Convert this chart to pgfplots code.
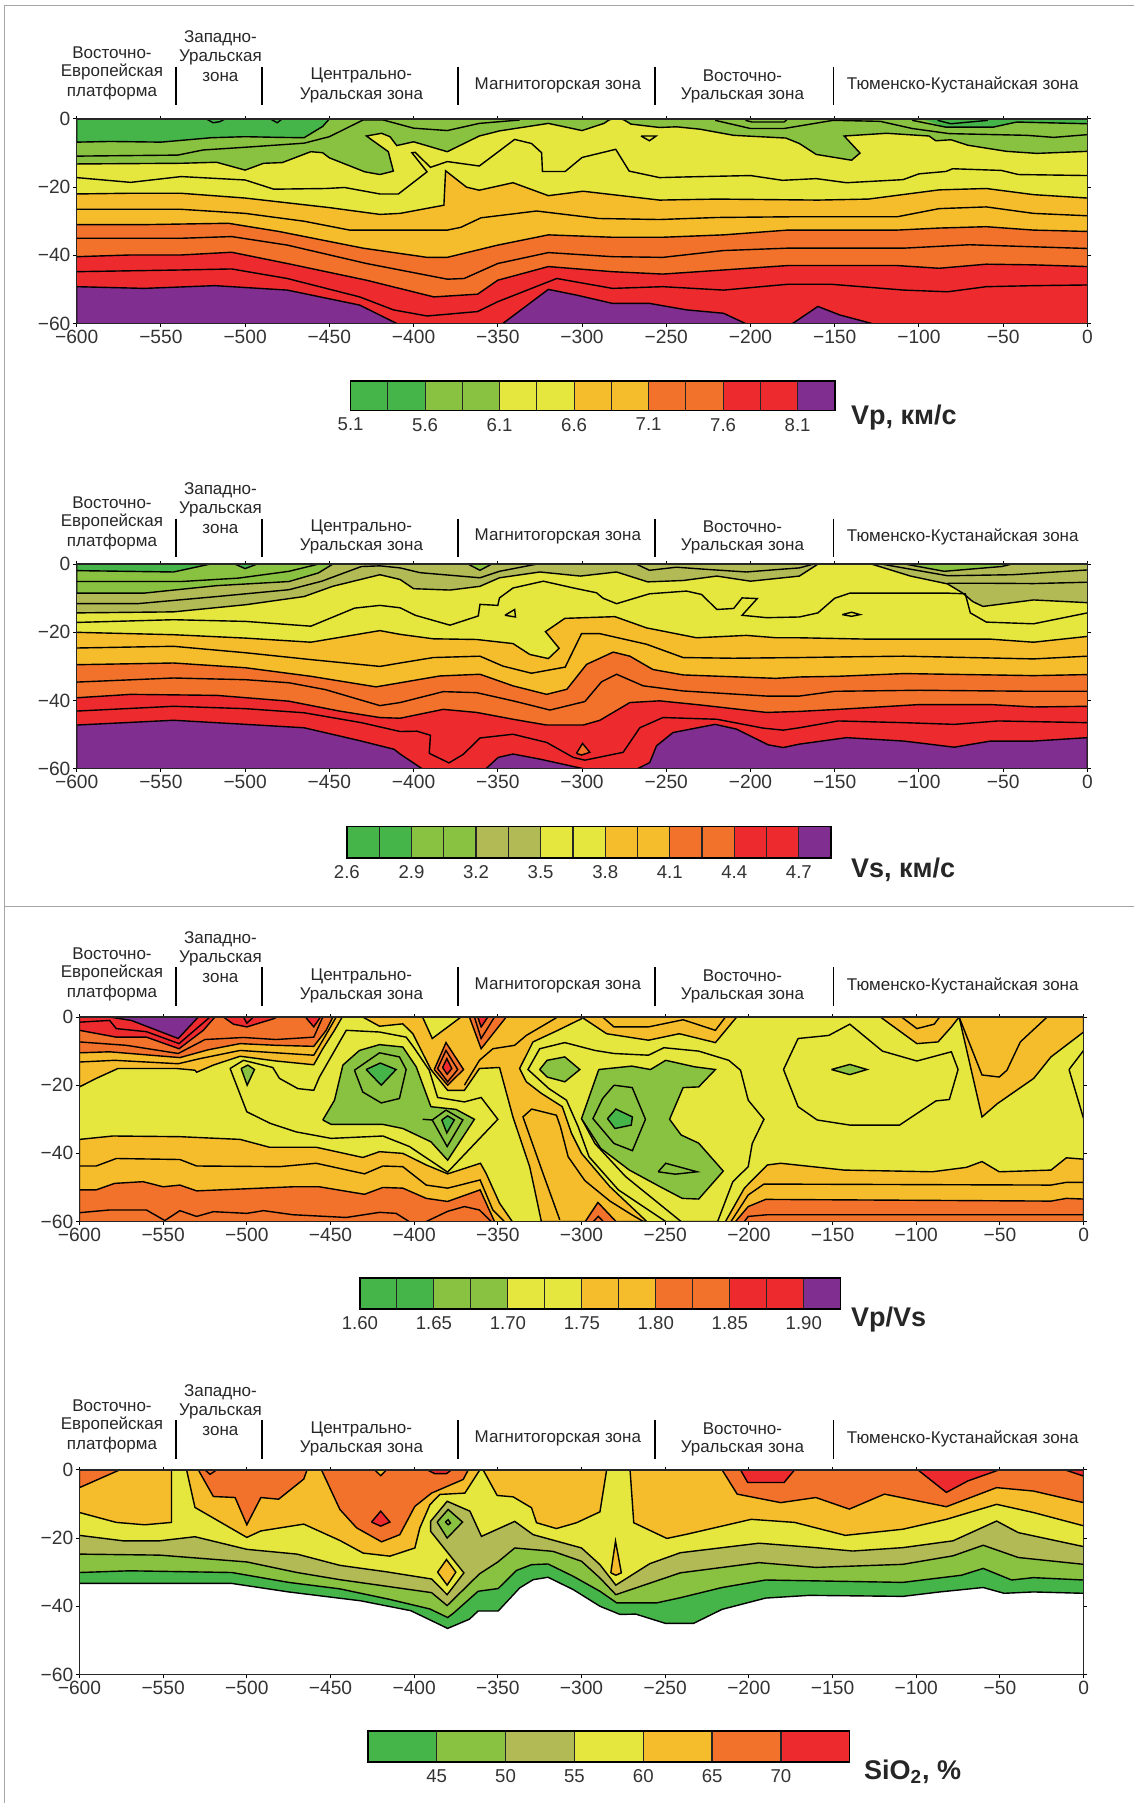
\documentclass[border=0pt]{standalone}
\usepackage{fontspec}
\setmainfont{Liberation Sans}
\usepackage{pgfplots}
\pgfplotsset{compat=1.18}
\definecolor{cD}{HTML}{46B549}
\definecolor{cL}{HTML}{88C240}
\definecolor{cO}{HTML}{B2BA56}
\definecolor{cY}{HTML}{E5E63E}
\definecolor{cG}{HTML}{F5BD2C}
\definecolor{cR}{HTML}{F2722B}
\definecolor{cE}{HTML}{ED2A2E}
\definecolor{cP}{HTML}{812E91}
\newcommand\tfont{\fontsize{8.5}{9}\selectfont}
\pgfplotsset{
  ct/.style={black,line width=0.7pt},
  panel/.style={scale only axis,width=#1,height=102.3pt,anchor=north west,
    xmin=-600,xmax=0,ymin=-60,ymax=0,axis on top,
    xtick={-600,-550,...,0},ytick={-60,-40,-20,0},
    xticklabels={−600,−550,−500,−450,−400,−350,−300,−250,−200,−150,−100,−50,0},
    yticklabels={−60,−40,−20,0},
    tick align=outside,xtick pos=both,ytick pos=both,
    major tick length=1.6pt,tick style={black,line width=0.5pt},
    axis line style={line width=0.8pt,black!85},
    tick label style={font=\fontsize{9.6}{10}\selectfont,text=black!80},
    xticklabel style={yshift=1.8pt},yticklabel style={xshift=2pt}},
  cbar/.style n args={3}{scale only axis,width=#1,height=#2,anchor=north west,
    xmin=0,xmax=#3,ymin=0,ymax=1,ytick=\empty,xtick pos=bottom,
    major tick length=0pt,tick style={draw=none},axis line style={line width=0.7pt},
    tick label style={font=\fontsize{9.3}{10}\selectfont,text=black!80},xticklabel style={yshift=-0.2pt},axis on top}
}
\newcommand\C[1]{\addplot[ct] coordinates {#1};}
\newcommand\F[2]{\addplot[fill=#1,draw=none] coordinates {#2};}
\newcommand\FC[2]{\F{#1}{#2}\C{#2}}
\newcommand\D[2]{\F{#1}{(-600,-60) #2 (0,-60)}\C{#2}}
\newcommand\U[2]{\F{#1}{(-600,0) #2 (0,0)}\C{#2}}
\newcommand\cell[2]{\addplot[fill=#2,draw=black!85,line width=0.6pt] coordinates {(#1,0)(#1+1,0)(#1+1,1)(#1,1)(#1,0)};}
\newcommand\zones[2]{%
  \foreach \t/\y in {Восточно-/52.7,Европейская/72,платформа/92}
    \node[font=\tfont,inner sep=0pt,text=black!85] at (112,{-(\y+#1)}) {\t};
  \foreach \t/\y in {Западно-/38.5,Уральская/57.8,зона/77}
    \node[font=\tfont,inner sep=0pt,text=black!85] at (220.5,{-(\y+#2)}) {\t};
  \foreach \t/\x/\y in {Центрально-/361.5/75.3,Уральская зона/361.5/95,Магнитогорская зона/558/85,Восточно-/742.6/75.3,Уральская зона/742.6/95,Тюменско-Кустанайская зона/963/85}
    \node[font=\tfont,inner sep=0pt,text=black!85] at (\x,{-(\y+#2)}) {\t};
  \foreach \x in {176.4,262.5,458.4,655,833.7}
    \draw[black,line width=0.95pt] (\x,{-(66.7+#2)}) -- (\x,{-(105+#2)});
}
\begin{document}
\begin{tikzpicture}[x=0.5pt,y=0.5pt]
\path (0,0) rectangle (1134,-1803);
\draw[gray!70,line width=0.5pt] (1134,-6) -- (5,-6) -- (5,-1803);
\draw[gray!70,line width=0.5pt] (5,-907) -- (1134,-907);
\zones{0}{0}\zones{450}{452}\zones{901}{901}\zones{1353}{1354}

% ---------- Vp
\begin{axis}[panel=505.5pt,at={(38.35pt,-59.5pt)}]
\F{cL}{(-600,0)(-600,-60)(0,-60)(0,0)}
\FC{cD}{(-600,0)(-600,-6.8)(-580,-6.6)(-550,-6.8)(-520,-5.5)(-500,-5.2)(-480,-5.4)(-465,-5.5)(-454,-2.2)(-450,0)}
\F{cD}{(-98,0)(-84,-2.4)(-56,-2.4)(-42,-.9)(0,-1.4)(0,0)}
\C{(-104,-.4)(-84,-2.4)(-56,-2.4)(-42,-.9)(0,-1.4)}
\C{(-89,-.4)(-81,-1.4)(-59,-.4)}
\C{(-523,0)(-519,-1.1)(-515,-.8)(-512,0)}
\C{(-485,0)(-481,-1.1)(-478,0)}
\C{(-221,-.4)(-200,-2.8)(-180,-2.8)(-151,-.4)(-123,-.7)(-104,-2.8)(-82,-4.3)(-36,-4.8)(-20,-5.4)(0,-4.6)}
\C{(-203,-.4)(-199,-.9)(-180,-.9)(-178,0)}
\C{(-600,-10.9)(-540,-10.6)(-525,-9.1)(-500,-8.3)(-465,-7.1)(-450,-5.2)(-430,-.3)(-418,-.3)(-400,-2.7)(-380,-3.4)(-361,-1.3)(-337,-.3)}
\D{cY}{(-600,-13.2)(-538,-13)(-517,-12.7)(-500,-15)(-489,-13)(-478,-12.8)(-461,-9.6)(-454,-9.9)(-450,-11.4)(-429,-15.5)(-420,-16.3)(-412,-15.3)(-415,-9.6)(-428,-5)(-419,-4.2)(-414,-5.2)(-410,-7.8)(-400,-6.7)(-380,-9.6)(-361,-5)(-349,-3.5)(-320,-1.3)(-300,-3.4)(-287,-1.3)(-284,-.3)(-282,0)(-277,0)(-275,-.3)(-271,-1.5)(-254,-2.5)(-244,-2.3)(-230,-3)(-210,-4.8)(-179,-5.6)(-171,-7.2)(-161,-10.4)(-140,-12.1)(-135,-10)(-144.4,-5)(-119.3,-4.2)(-94,-5)(-90,-6.4)(-81,-6.1)(-71,-7.7)(-48,-9.5)(-30,-10.1)(0,-9.5)}
\C{(-265,-5)(-256,-5)(-260,-6.4)(-265,-5)}
\C{(-600,-17.2)(-568,-18.6)(-538,-16.9)(-500,-17.9)(-483,-20.6)(-452,-20.4)(-441,-20.1)(-420,-22)(-409,-22)(-392,-15.5)(-401,-9.9)(-399,-9.8)(-390,-14.2)(-380,-12.5)(-361,-13.8)(-340,-6)(-330,-7.2)(-324,-9.9)(-323.5,-15.4)(-310,-15.4)(-300,-11.3)(-280,-8.9)(-272,-15.3)(-254,-17.2)(-238,-17)(-200,-16.6)(-181,-18)(-161,-17.5)(-143,-18.7)(-109.4,-17.8)(-100,-16.1)(-84,-15.4)(-80,-14.6)(-51,-15.1)(-41,-16.3)(0,-16.6)}
\D{cG}{(-600,-22)(-570,-21.8)(-538,-21.8)(-500,-23.2)(-450,-26)(-420,-28)(-408,-27.7)(-382,-25.3)(-381,-15.2)(-368.6,-20)(-361,-20.9)(-341,-18.7)(-320,-22.5)(-299.4,-21.2)(-254,-23.8)(-220,-23.5)(-160,-23.8)(-130,-23.5)(-88,-20.8)(-60,-20.4)(-32,-22.2)(0,-23.2)}
\C{(-600,-26.5)(-538,-26.5)(-500,-27.7)(-465,-30)(-438,-32.6)(-380,-32.6)(-372,-31.8)(-360,-29)(-327,-27)(-290,-29.2)(-254,-29.5)(-220,-28.9)(-177,-28.7)(-113,-28.7)(-88,-26.3)(-60,-25.8)(-32,-27.7)(0,-28.4)}
\D{cR}{(-600,-31)(-560,-31)(-510,-30.6)(-480,-33)(-430,-37.9)(-392,-40.6)(-380,-40.6)(-350,-37)(-320,-34)(-282,-34.7)(-252,-34.7)(-216,-34)(-178,-32.6)(-113,-32.6)(-88,-32)(-60,-31.6)(-32,-32.6)(0,-33)}
\C{(-600,-35)(-538,-35)(-508,-34.5)(-475,-37)(-428,-42.4)(-380,-47)(-370,-46.8)(-350,-42.4)(-320,-39.2)(-282,-40.4)(-252,-40.6)(-216,-38.6)(-178,-37.9)(-109,-37.9)(-70,-36.9)(-32,-37.5)(0,-38)}
\D{cE}{(-600,-40.4)(-568,-39.9)(-538,-39.9)(-508,-39.1)(-475,-42.4)(-428,-47.3)(-388,-52.2)(-362,-51.4)(-350,-47.3)(-320,-43.3)(-282,-44.8)(-252,-45.5)(-216,-44.3)(-178,-43)(-113,-43)(-88,-43.8)(-60,-42.6)(-32,-42.8)(0,-43.3)}
\C{(-600,-44.8)(-538,-44.3)(-508,-44)(-475,-46.8)(-432,-52.2)(-412,-56)(-392,-57.8)(-362,-56.5)(-350,-53.6)(-315,-46.8)(-282,-49.7)(-252,-49.2)(-216,-50.2)(-178,-48.5)(-152,-48.5)(-109,-50.2)(-83,-50.7)(-60,-49.2)(-32,-48.9)(0,-48.7)}
\FC{cP}{(-600,-60)(-600,-49.2)(-560,-49.7)(-518,-48.9)(-475,-50.2)(-432,-54.6)(-410,-60)}
\FC{cP}{(-347,-60)(-320,-50)(-303,-51.7)(-282,-54.1)(-260,-54.1)(-238,-56)(-216,-57)(-203,-60)}
\FC{cP}{(-175,-60)(-160,-55)(-147,-57.5)(-128,-60)}
\end{axis}
\begin{axis}[cbar={242.2pt}{14.9pt}{13},at={(175.35pt,-190.5pt)},xtick={0,2,...,12},xticklabels={5.1,5.6,6.1,6.6,7.1,7.6,8.1}]
\cell{0}{cD}\cell{1}{cD}\cell{2}{cL}\cell{3}{cL}\cell{4}{cY}\cell{5}{cY}\cell{6}{cG}\cell{7}{cG}\cell{8}{cR}\cell{9}{cR}\cell{10}{cE}\cell{11}{cE}\cell{12}{cP}
\end{axis}
\node[anchor=west,font=\fontsize{13.5}{15}\selectfont\bfseries,text=black!85,inner sep=0pt] at (851,-418) {Vp, км/с};

% ---------- Vs
\begin{axis}[panel=505.5pt,at={(38.35pt,-282.15pt)}]
\F{cO}{(-600,0)(-600,-60)(0,-60)(0,0)}
\FC{cL}{(-600,0)(-600,-8.5)(-560,-8.5)(-516.7,-6.3)(-474,-5.1)(-456.6,-2.6)(-448,0)}
\FC{cD}{(-600,0)(-600,-1.9)(-542.5,-2.3)(-521,0)}
\FC{cD}{(-506,0)(-500,-1.3)(-493,0)}
\C{(-600,-5.1)(-538,-5.1)(-504,-4.1)(-474,-2.1)(-456.6,0)}
\FC{cL}{(-367.6,0)(-360.6,-1.8)(-353.7,0)}
\FC{cL}{(-108,0)(-85,-2.1)(-51,-.7)(-45,0)}
\C{(-600,-11.6)(-564,-11.6)(-516.7,-9.5)(-474,-7.5)(-454.5,-5)(-431,-.7)(-420,-.5)(-408,-1.1)(-396.2,-2.5)(-360.6,-4)(-349,-2.1)(-327,0)}
\C{(-267.7,0)(-260,-1.8)(-244,-.9)(-224,-1.6)(-202.4,-2.3)(-184.6,-1.6)(-171,-1.1)(-162.7,0)}
\C{(-122,0)(-83,-3.4)(-44.6,-3.1)(0,-1.7)}
\C{(-83,-5.6)(-60,-5.6)(-32,-5.7)(0,-5.3)}
\D{cY}{(-600,-14.3)(-542.5,-14)(-499.6,-11.9)(-465,-9.5)(-448,-6.5)(-420,-3.1)(-408,-4.5)(-400,-7.2)(-378.4,-7.6)(-360.6,-6.5)(-349,-4)(-325,-2.3)(-301,-3.5)(-279.5,-2.3)(-261,-5.2)(-240,-4.8)(-220,-3.5)(-200,-5)(-171,-3.5)(-160,0)(-128,0)(-105,-3.5)(-83,-5.8)(-74,-8.5)(-68,-11)(-62,-12.4)(-32,-10.5)(0,-11.3)}
\C{(-600,-17.1)(-542.5,-16.3)(-499.6,-16.8)(-461,-18.2)(-435,-12.9)(-420,-12.1)(-408,-12.8)(-399,-15)(-378.4,-17.9)(-361.6,-15.2)(-360.6,-11.8)(-350,-12.1)(-349,-9.9)(-341,-7)(-323,-5)(-305,-7)(-291.4,-8.4)(-287.5,-10)(-279.5,-11.6)(-260,-8.7)(-238,-7.9)(-229,-8.9)(-220,-13.3)(-210,-13)(-205,-9.9)(-196,-10.1)(-205,-15)(-190.5,-15.7)(-171,-15.5)(-160,-14.3)(-150,-10)(-141,-8.5)(-83,-8.5)(-72.5,-8.7)(-69.5,-14.3)(-60,-17)(-32,-17.5)(0,-14.3)}
\C{(-345.8,-15)(-340,-13.3)(-339.5,-15.5)(-345.8,-15)}
\C{(-145.5,-14.8)(-140,-14.1)(-135,-14.8)(-140,-15.3)(-145.5,-14.8)}
\D{cG}{(-600,-20)(-542.5,-20.7)(-499.6,-21.7)(-461,-22.9)(-420,-19.5)(-408,-20.6)(-388.3,-21.9)(-362.6,-22.1)(-341,-23.3)(-331,-26.5)(-320,-27.7)(-313.6,-24.7)(-321.7,-19.8)(-310.2,-15.9)(-280.5,-15.4)(-261.7,-18.7)(-232,-21.6)(-202.4,-20.9)(-184.6,-21.6)(-171,-21.6)(-130,-22)(-57.5,-22)(-32,-22.9)(0,-21.2)}
\C{(-600,-24.6)(-542.5,-24.1)(-499.6,-26)(-461,-28)(-420,-30)(-408,-29)(-388.3,-27.4)(-360.6,-27)(-347,-29.9)(-330,-32)(-310,-30.2)(-300.3,-20.4)(-289.4,-20.4)(-261.7,-23.5)(-240,-27.4)(-210.3,-27.6)(-171,-27.4)(-143,-27.2)(-109,-27)(-60,-27.5)(-32,-27.8)(0,-27)}
\D{cR}{(-600,-29.5)(-542.5,-29)(-499.6,-30.4)(-461,-32.9)(-422.3,-36)(-408,-34.8)(-384.4,-32.8)(-360.6,-32.3)(-341,-35.7)(-321,-38.2)(-309,-36.7)(-297.3,-29.4)(-281.5,-25.8)(-271.6,-27)(-258,-30.9)(-240,-32.5)(-185,-33.5)(-171,-33.1)(-148,-32.9)(-109,-32.1)(-32,-32.7)(0,-32.4)}
\C{(-600,-34.6)(-542.5,-33.4)(-499.6,-33.9)(-474,-34.8)(-452.4,-36.8)(-420,-41.5)(-408,-40.6)(-382.4,-37.4)(-362.6,-37.7)(-341,-40.1)(-319,-42.8)(-298.3,-40.3)(-288.4,-34.5)(-279.5,-32.3)(-263.7,-35.7)(-240,-37.2)(-190.5,-38.7)(-171,-38.7)(-150,-37.3)(-100,-37)(-32,-37.3)(0,-37.3)}
\D{cE}{(-600,-39.2)(-568,-38.2)(-516.7,-38.5)(-474,-40.2)(-444,-43.1)(-420,-45)(-408,-45.2)(-382.4,-42.6)(-362.6,-43.5)(-341,-45.5)(-321,-47.2)(-299.3,-47.2)(-289.4,-45.8)(-271.6,-40.6)(-254,-40.1)(-230,-41.3)(-190.5,-43.5)(-171,-43.2)(-148,-42.6)(-100,-41.2)(-57.5,-41.2)(-32,-41.9)(0,-41.7)}
\C{(-600,-43.1)(-542.5,-41.7)(-499.6,-42.4)(-465,-43.6)(-431,-46.5)(-408,-49.1)(-398,-49)(-390,-50.2)(-390.7,-55.5)(-379,-58.3)(-370.5,-55.8)(-360.6,-51)(-341,-49.9)(-321,-52.3)(-305.2,-56.7)(-298.3,-57.5)(-275.6,-55.2)(-265.7,-48)(-252,-45)(-220,-45.5)(-192.5,-48.1)(-180.6,-48.7)(-171,-48)(-148,-46)(-109,-46.5)(-79,-47)(-53,-46)(0,-46.5)}
\FC{cR}{(-303.3,-55.5)(-299.7,-52.6)(-295.4,-55.2)(-300.3,-56)(-303.3,-55.5)}
\FC{cP}{(-600,-60)(-600,-47.2)(-542.5,-45.8)(-499.6,-47)(-465,-48)(-431,-51.9)(-411.6,-54.3)(-408,-55.7)(-395,-60)}
\FC{cP}{(-357,-60)(-349.8,-56.7)(-341,-55.7)(-325,-57.2)(-299.3,-60)}
\FC{cP}{(-267,-60)(-259.8,-58.2)(-255.8,-53.3)(-246,-49.4)(-221,-47)(-208.3,-48.4)(-189.5,-53)(-180.6,-53.8)(-171,-52.8)(-143,-50.9)(-109,-51.9)(-79,-53.7)(-57.5,-51.9)(-32,-51.9)(0,-50.9)(0,-60)}
\end{axis}
\begin{axis}[cbar={242.2pt}{15.8pt}{15},at={(173.5pt,-413.35pt)},xtick={0,2,...,14},xticklabels={2.6,2.9,3.2,3.5,3.8,4.1,4.4,4.7}]
\cell{0}{cD}\cell{1}{cD}\cell{2}{cL}\cell{3}{cL}\cell{4}{cO}\cell{5}{cO}\cell{6}{cY}\cell{7}{cY}\cell{8}{cG}\cell{9}{cG}\cell{10}{cR}\cell{11}{cR}\cell{12}{cE}\cell{13}{cE}\cell{14}{cP}
\end{axis}
\node[anchor=west,font=\fontsize{13.5}{15}\selectfont\bfseries,text=black!85,inner sep=0pt] at (851,-870) {Vs, км/с};

% ---------- Vp/Vs
\begin{axis}[panel=502.2pt,at={(39.75pt,-508.65pt)}]
\F{cY}{(-600,0)(-600,-60)(0,-60)(0,0)}
% gold
\FC{cG}{(-600,0)(-600,-20.5)(-590,-18)(-577,-15.1)(-542,-15.1)(-531,-15.6)(-530,-16.2)(-520,-14.1)(-504,-11.5)(-482.5,-12.9)(-460,-14)(-454.6,-9.3)(-447.6,-3.9)(-443,0)}
\FC{cG}{(-430.7,0)(-420.7,-2.7)(-406.8,-2)(-400.8,-4.9)(-390,-15.4)(-380,-21.5)(-370,-21.5)(-361,-15.1)(-349,-14.8)(-341,-29.3)(-331,-43.9)(-328,-50.7)(-324,-60)(-261,-60)(-283,-49.8)(-300,-40)(-306,-34.1)(-311.5,-26.3)(-324,-22.4)(-333,-19)(-337,-15.1)(-329,-7.3)(-315,-4.1)(-300,-.5)(-300,0)}
\FC{cG}{(-300,0)(-285,-4.9)(-260,-6.8)(-241.6,-4.9)(-220,-7.5)(-207.3,0)}
\C{(-287.4,0)(-280.6,-2.9)(-260,-2.9)(-239.3,-.8)(-220,-3.9)(-214,0)}
\FC{cG}{(-121.4,0)(-99.6,-7.8)(-87,-7.3)(-79,-2.9)(-74.4,0)}
\C{(-108.8,0)(-99.6,-3.4)(-89.3,-2.1)(-86,0)}
\FC{cG}{(-74.4,0)(-60.7,-29.3)(-51.5,-25.4)(-29.8,-18)(-19.5,-11.7)(0,-4.4)(0,0)}
\C{(-74.4,0)(-60.7,-17)(-50.4,-17.6)(-45.8,-15.6)(-37.8,-7.3)(-21.8,0)}
\C{(-8.7,-15.4)(0,-9.8)}\C{(-8.7,-15.4)(0,-29.8)}
\C{(-600,-13.2)(-579,-12.7)(-541,-13.7)(-528,-12.2)(-504,-9.8)(-482.5,-10.5)(-460,-11.2)(-454.6,-6.8)(-446.6,0)}
\FC{cY}{(-395,0)(-389.2,-6.3)(-372,0)}
\C{(-370,-20)(-361,-12.7)(-353,-9.3)(-340,-8.3)(-333,-5.4)(-315,-.2)}
\C{(-313,-59.5)(-323,-45.9)(-335,-29.3)(-329.8,-27)(-315,-28.8)(-312.6,-32.2)(-308,-41)(-298,-48)(-283,-54)(-270,-58)(-263,-60)}
% top-left orange / red / purple
\FC{cR}{(-600,0)(-600,-10.5)(-582,-10.2)(-540,-11.9)(-523,-9.6)(-504,-7.8)(-482.5,-8.3)(-460,-8.6)(-452.6,-3.9)(-448.6,0)}
\C{(-600,-7.3)(-572,-8.3)(-541,-10.7)(-525,-6.6)(-502,-6)(-482.5,-6.6)(-460,-5.9)(-454.6,0)}
\FC{cE}{(-600,0)(-600,-3.9)(-578,-5.9)(-560,-5.9)(-540.5,-9.3)(-526,-3.9)(-520,-.5)(-519,0)}
\C{(-600,-1.5)(-582,-1)(-578,-3.4)(-560,-4.3)(-540.5,-7.8)(-522,0)}
\FC{cP}{(-582,0)(-569,-1)(-541,-6.3)(-529,0)}
\FC{cE}{(-514,0)(-508,-2.1)(-500,-2.9)(-484,-.5)(-482,0)}
\C{(-502,0)(-500,-1.8)(-496,0)}
\FC{cE}{(-465,0)(-460,-2.9)(-456,0)}
\FC{cR}{(-367,0)(-360,-9.3)(-345,0)}
\C{(-364,0)(-360,-6.3)(-352,0)}
\FC{cE}{(-362,0)(-360,-2.9)(-356,0)}
\FC{cR}{(-388,-15.4)(-381,-7.5)(-370.5,-15.4)(-380,-20)(-388,-15.4)}
\C{(-386,-15.1)(-381,-9.8)(-374,-15.4)(-380,-19)(-386,-15.1)}
\FC{cE}{(-383,-14.8)(-380.5,-12.2)(-377.5,-15.1)(-380.3,-16.8)(-383,-14.8)}
% loops and green areas
\C{(-510,-15.1)(-502,-12.7)(-484.5,-14.8)(-480.5,-18)(-469.5,-21)(-460,-21.5)(-456.6,-17.6)(-440.6,-3.9)(-420.7,-4.4)(-404.8,-5.9)(-400.4,-8.8)(-391,-15.6)(-386,-23.6)(-370,-24.9)(-360,-23.6)(-350,-30)(-380,-45.5)(-402.8,-38)(-418.7,-34.9)(-449.6,-35.6)(-470.5,-33.7)(-486,-31.2)(-500,-27.8)(-510,-15.1)}
\FC{cL}{(-503.4,-15.1)(-499.4,-14.1)(-495.4,-15.4)(-499.8,-20)(-503.4,-15.1)}
\FC{cL}{(-454.6,-30.2)(-447.6,-24.4)(-442.6,-14.1)(-432.7,-9.8)(-420.7,-8.1)(-406.8,-8.8)(-398.8,-14.6)(-390,-26.3)(-375,-27.1)(-364,-30)(-380,-42)(-390,-36.6)(-406.8,-32.7)(-418.7,-31.5)(-449.6,-31.5)(-454.6,-30.2)}
\C{(-435.7,-15.6)(-420.7,-10.5)(-408.8,-11.7)(-404.8,-15.4)(-408.8,-23.9)(-419.7,-25.2)(-430.7,-22)(-435.7,-15.6)}
\FC{cD}{(-428.7,-15.4)(-420.3,-13.5)(-410.8,-15.4)(-419.7,-20)(-428.7,-15.4)}
\C{(-395,-30)(-389.2,-30.2)(-381,-27.3)(-370.9,-30.2)(-380.3,-38)(-389.2,-30.2)}
\FC{cD}{(-383.5,-30.2)(-380,-29)(-376,-30.2)(-380.5,-34)(-383.5,-30.2)}
\C{(-310,-7.5)(-325,-9.3)(-332,-15.4)(-319.5,-21)(-309,-24.4)(-302,-32.2)(-295.5,-41)(-278,-50.7)(-249.7,-60)(-218.7,-60)(-209.6,-48.3)(-200.4,-43.9)(-198,-37.1)(-191,-30)(-200.4,-24.4)(-205,-15.6)(-212,-12.7)(-230,-10)(-250.8,-9)(-260,-11.2)(-280.6,-10.7)(-292,-9.8)(-310,-7.5)}
\C{(-300,-29.8)(-292,-37.1)(-273.7,-46.8)(-240.5,-60)}
\FC{cL}{(-325,-15.4)(-320.6,-12.7)(-310,-11.7)(-301,-15.4)(-310,-19)(-320.6,-17.6)(-325,-15.4)}
\FC{cL}{(-289.7,-15.4)(-270,-14.4)(-258.8,-15.4)(-249.7,-12.7)(-232.5,-14.6)(-220,-15.4)(-230,-20.5)(-239.3,-20.7)(-247.4,-30)(-240.5,-34.6)(-230,-37)(-215.3,-45.2)(-230,-53.4)(-239.8,-53.2)(-253,-49.8)(-271.4,-44.9)(-288.6,-38.5)(-300,-29.8)(-289.7,-15.4)}
\C{(-280.6,-20)(-269.7,-20.7)(-261.8,-30)(-269.6,-39.2)(-280.6,-37.1)(-293.2,-29.8)(-287.4,-23.9)(-280.6,-20)}
\FC{cD}{(-284.5,-29.8)(-279.5,-27)(-269.6,-29.3)(-270.3,-31.7)(-280,-32.7)(-284.5,-29.8)}
\C{(-254.2,-45.4)(-249.7,-42.9)(-230.9,-45.4)(-244,-46.1)(-254.2,-45.4)}
\C{(-170.6,-6.3)(-152.3,-5.4)(-139.7,-2.1)(-120.2,-10)(-99.6,-12.9)(-79,-10.2)(-75,-15.4)(-80.2,-24.2)(-88.2,-24.6)(-110,-31.7)(-139.7,-31.7)(-159.2,-30.2)(-170.6,-26.3)(-179.3,-15.4)(-170.6,-6.3)}
\FC{cL}{(-150.7,-15.4)(-139.7,-13.9)(-129.4,-15.4)(-139.7,-16.9)(-150.7,-15.4)}
% bottom
\FC{cG}{(-600,-60)(-600,-35.9)(-580,-34.9)(-540,-35.1)(-504,-35.9)(-486.5,-38.2)(-458.6,-38.2)(-430.7,-41.2)(-420.7,-39.5)(-406.8,-40)(-392.8,-43.4)(-380,-46)(-373,-44.9)(-360.4,-42.9)(-357,-45.9)(-349,-54.6)(-341.4,-60)}
\C{(-600,-43.7)(-590,-43.7)(-578,-41.5)(-540,-41.8)(-530,-43.7)(-480.5,-43.9)(-458.6,-42.9)(-429.7,-46)(-418.7,-43.7)(-406.8,-43.9)(-392.8,-49.3)(-380,-50.2)(-360.6,-47.8)(-353,-56.6)(-346,-60)}
\FC{cR}{(-600,-60)(-600,-50.7)(-590,-50.7)(-579,-48.8)(-562,-48.3)(-550,-49.8)(-540,-49.3)(-530,-51)(-472.5,-49.8)(-456.6,-49.8)(-429.7,-52)(-418.7,-50)(-406.8,-50.2)(-392.8,-53.2)(-380,-54.1)(-360.6,-50.7)(-352,-60)}
\C{(-600,-57.4)(-582,-56.6)(-560,-56.6)(-549,-59.7)(-540,-56.8)(-530,-58.5)(-520,-57.1)(-500,-57.6)(-490,-56.8)(-472.5,-58)(-440.6,-58.8)(-420.7,-57.3)(-410.8,-57.6)(-403,-60)}
\C{(-392.8,-60)(-380,-57)(-370,-55.6)(-361,-56.6)(-354,-60)}
\FC{cR}{(-297.8,-60)(-290.2,-54.4)(-279.4,-60)}
\C{(-293,-60)(-290,-58.5)(-287,-60)}
\FC{cG}{(-214,-60)(-202.7,-50.2)(-189,-43.4)(-181,-42.9)(-143,-44.9)(-111,-45.2)(-90.5,-45.4)(-70,-44.1)(-60.7,-42.4)(-50.4,-45.4)(-19.5,-44.9)(-10.3,-41.3)(0,-41.7)(0,-60)}
\C{(-210.7,-60)(-200.4,-52.2)(-191,-49)(-19.5,-49.3)(-10.3,-48.5)(0,-48.5)}
\FC{cR}{(-208,-60)(-200.4,-55.6)(-190,-53.5)(-19.5,-54)(-10.3,-53.2)(0,-53.4)(0,-60)}
\C{(-202.7,-60)(-200.4,-58.5)(-189,-58)(0,-58)}
\end{axis}
\begin{axis}[cbar={240.5pt}{15.5pt}{13},at={(180pt,-639.15pt)},xtick={0,2,...,12},xticklabels={1.60,1.65,1.70,1.75,1.80,1.85,1.90}]
\cell{0}{cD}\cell{1}{cD}\cell{2}{cL}\cell{3}{cL}\cell{4}{cY}\cell{5}{cY}\cell{6}{cG}\cell{7}{cG}\cell{8}{cR}\cell{9}{cR}\cell{10}{cE}\cell{11}{cE}\cell{12}{cP}
\end{axis}
\node[anchor=west,font=\fontsize{13.5}{15}\selectfont\bfseries,text=black!85,inner sep=0pt] at (851,-1320) {Vp/Vs};

% ---------- SiO2
\begin{axis}[panel=502.2pt,at={(39.75pt,-735.15pt)}]
\U{cD}{(-600,-33.3)(-509,-33.3)(-475,-35.8)(-432,-38.4)(-402,-41.3)(-380,-46.5)(-367,-43.8)(-361.8,-41.4)(-349.8,-41.4)(-336.9,-34.6)(-328.9,-32.2)(-320,-31.5)(-305,-35.1)(-289,-40)(-277,-42.4)(-267.6,-42.3)(-250,-45)(-233,-45)(-216,-40.9)(-190,-37.6)(-164,-36.8)(-108,-37.1)(-86,-35.8)(-60,-34.5)(-47.5,-36.2)(-30,-35.8)(0,-36.2)}
\U{cL}{(-600,-30.1)(-570,-29.6)(-509,-30.1)(-475,-33)(-444.4,-34.9)(-414.5,-38)(-390.6,-40.8)(-380,-43.3)(-376.7,-42.1)(-361.8,-35.6)(-349.8,-34.8)(-338.9,-29.5)(-329.9,-27.8)(-320,-27.6)(-305,-31.2)(-289,-35.6)(-279,-39)(-255,-39)(-241,-37.5)(-216,-34.5)(-190,-32.3)(-108,-33)(-73,-30.9)(-60,-28.9)(-43,-32.3)(-30,-31.6)(0,-32.3)}
\U{cO}{(-600,-24.7)(-552,-25)(-500,-27)(-470,-30.1)(-444.4,-32.2)(-389.6,-36)(-380.3,-39.8)(-361,-30.5)(-350,-27)(-339.9,-22.9)(-317,-23.9)(-300,-26.8)(-289,-31.7)(-279.5,-36.6)(-241,-30.2)(-194,-27.2)(-160,-28.6)(-108,-27.7)(-78,-25.2)(-60,-22.1)(-39,-25.7)(0,-27.7)}
\U{cY}{(-600,-19.2)(-574,-20.8)(-552,-20.8)(-531,-19.6)(-500,-23.3)(-470,-24.7)(-444.4,-28)(-416.5,-29.9)(-389.6,-32)(-380.3,-36.6)(-370.3,-30.2)(-390.2,-18)(-390.2,-15.1)(-380.3,-9.2)(-366.7,-12.1)(-359.8,-19.5)(-339.9,-15.1)(-328.9,-19)(-300,-22.9)(-289,-27.8)(-279.5,-33.8)(-259.2,-27.5)(-241,-24.3)(-194,-21.5)(-160,-22.8)(-138,-23.8)(-108,-22.8)(-78,-20.8)(-52,-15)(-39,-18.4)(0,-22.5)}
\FC{cL}{(-386.3,-15.3)(-379.7,-11.6)(-371.1,-15.3)(-380.3,-20)(-386.3,-15.3)}
\C{(-381.4,-15.3)(-379.7,-14.6)(-378.3,-15.6)(-379.7,-16.1)(-381.4,-15.3)}
\U{cG}{(-600,-12.5)(-578,-15.4)(-561,-16.1)(-545,-15.4)(-545,0)(-536,0)(-531,-11)(-500,-19.8)(-491.6,-17.9)(-466,-15.9)(-444.4,-20.7)(-430.5,-24.4)(-414.5,-25.3)(-399.6,-22.9)(-396.6,-17)(-390.6,-10.2)(-384.7,-7.2)(-369.7,-6.8)(-360.8,0)(-358.8,0)(-350.4,-7.5)(-340.9,-7.9)(-329.9,-11.1)(-326.9,-15.5)(-315,-17.2)(-303,-15.5)(-289,-12.3)(-285,0)(-271,0)(-268.8,-15.5)(-249,-20.1)(-237.4,-18.9)(-198.6,-14.5)(-172.7,-15.4)(-142.4,-19.2)(-108,-17.4)(-82,-14.5)(-52,-10.1)(-30,-12.5)(0,-16.4)}
\FC{cG}{(-386,-30)(-380.7,-26.3)(-375.1,-30)(-380.3,-33.8)(-386,-30)}
\FC{cG}{(-282.5,-30.2)(-279.7,-20.9)(-276.2,-30.2)(-279.5,-30.9)(-282.5,-30.2)}
\FC{cR}{(-600,0)(-600,-5.2)(-576,0)}
\FC{cR}{(-529,0)(-520,-7.8)(-507,-8.1)(-500,-16.1)(-491.6,-8.1)(-481,-8.6)(-466,-2.7)(-464,0)}
\FC{cR}{(-455.4,0)(-444.4,-11.6)(-434.4,-17)(-419.5,-21.1)(-408.6,-19)(-399.6,-10.7)(-389.6,-6.8)(-370.7,-2.8)(-367.7,0)}
\FC{cR}{(-216,0)(-207,-7.1)(-181,-9.6)(-160,-8.1)(-140,-11.5)(-119,-7.1)(-82,-10.8)(-52,-5.2)(-30,-6.2)(0,-9.6)(0,0)}
\FC{cE}{(-205,0)(-200.7,-3.7)(-179,-3.7)(-172.7,0)}
\FC{cE}{(-99,0)(-82,-6.6)(-69,-3.2)(-50.5,0)}
\FC{cE}{(-11,0)(0,-1.8)(0,0)}
\FC{cE}{(-425.5,-15.3)(-420,-12.1)(-414.5,-15.3)(-420,-16.5)(-425.5,-15.3)}
\FC{cE}{(-392.2,0)(-387.7,-1.1)(-380.7,-1.1)(-377.7,0)}
\FC{cG}{(-423.5,0)(-420,-1.7)(-416.5,0)}
\C{(-525,0)(-522,-1.3)(-518,0)}
\end{axis}
\begin{axis}[cbar={241pt}{15.5pt}{7},at={(184pt,-865.65pt)},xtick={1,2,...,6},xticklabels={45,50,55,60,65,70}]
\cell{0}{cD}\cell{1}{cL}\cell{2}{cO}\cell{3}{cY}\cell{4}{cG}\cell{5}{cR}\cell{6}{cE}
\end{axis}
\node[anchor=west,font=\fontsize{13.5}{15}\selectfont\bfseries,text=black!85,inner sep=0pt] at (864,-1772) {SiO\textsubscript{2}, \%};
\end{tikzpicture}
\end{document}
